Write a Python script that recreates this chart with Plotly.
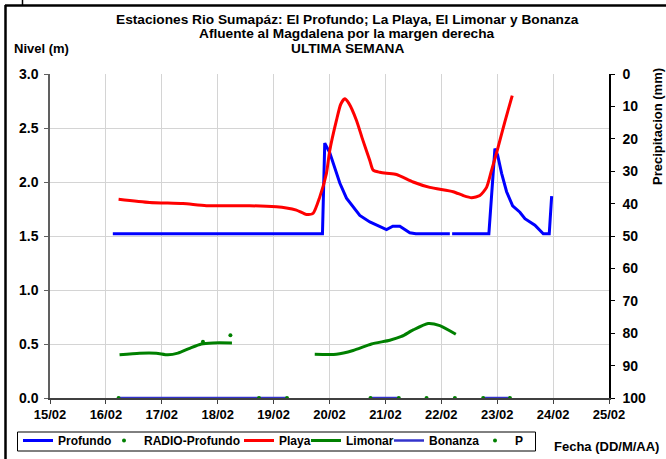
import plotly.graph_objects as go

# ---- data (x in day-of-month, February) ----
tick_days = [15, 16, 17, 18, 19, 20, 21, 22, 23, 24, 25]
tick_labels = ["15/02", "16/02", "17/02", "18/02", "19/02", "20/02",
               "21/02", "22/02", "23/02", "24/02", "25/02"]

profundo_x = [16.124, 19.874, 19.915, 20.005, 20.184, 20.304, 20.542, 20.721, 21.020,
              21.079, 21.133, 21.258, 21.437, 21.544, 22.153, None, 22.194, 22.851,
              22.959, 23.007, 23.079, 23.168, 23.276, 23.406, 23.496, 23.675, 23.824,
              23.931, 23.974]
profundo_y = [1.52, 1.52, 2.36, 2.27, 1.99, 1.85, 1.69, 1.63, 1.56,
              1.58, 1.59, 1.59, 1.53, 1.52, 1.52, None, 1.52, 1.52,
              2.31, 2.25, 2.08, 1.91, 1.78, 1.72, 1.66, 1.60, 1.52,
              1.52, 1.87]

radio_x = [17.736, 18.227]
radio_y = [0.52, 0.58]

playa_x = [16.227, 16.782, 17.378, 17.797, 18.572, 19.050, 19.229, 19.408, 19.587,
           19.706, 19.825, 19.945, 20.004, 20.124, 20.201, 20.273, 20.344, 20.483,
           20.595, 20.721, 20.780, 20.900, 21.020, 21.199, 21.496, 21.794, 22.212,
           22.391, 22.542, 22.690, 22.810, 22.900, 23.000, 23.138, 23.269]
playa_y = [1.84, 1.81, 1.80, 1.78, 1.78, 1.77, 1.76, 1.74, 1.70,
           1.71, 1.86, 2.08, 2.29, 2.57, 2.72, 2.77, 2.73, 2.57,
           2.39, 2.20, 2.11, 2.09, 2.08, 2.07, 2.00, 1.95, 1.91,
           1.875, 1.855, 1.875, 1.95, 2.11, 2.29, 2.56, 2.80]

limonar_x = [16.244, 16.602, 16.901, 17.109, 17.288, 17.498, 17.707, 17.915, 18.255,
             None, 19.736, 20.124, 20.422, 20.751, 21.079, 21.288, 21.496, 21.765,
             21.974, 22.260]
limonar_y = [0.40, 0.415, 0.415, 0.40, 0.415, 0.46, 0.50, 0.51, 0.51,
             None, 0.405, 0.405, 0.44, 0.50, 0.535, 0.57, 0.63, 0.69,
             0.67, 0.59]

bonanza_x = [16.227, 19.240, None, 20.733, 21.240, None, 22.749, 23.228]
bonanza_y = [0.0, 0.0, None, 0.0, 0.0, None, 0.0, 0.0]

p_x = [16.227, 18.739, 19.240, 20.733, 21.240, 21.736, 22.243, 22.749, 23.228]
p_y = [0, 0, 0, 0, 0, 0, 0, 0, 0]

title_lines = ["Estaciones Rio Sumapáz: El Profundo; La Playa, El Limonar y Bonanza",
               "Afluente al Magdalena por la margen derecha",
               "ULTIMA SEMANA"]

FONT = "Liberation Sans"
GREEN = "#008000"

fig = go.Figure()
fig.add_trace(go.Scatter(x=profundo_x, y=profundo_y, name="Profundo", mode="lines",
                         line=dict(color="#0000FF", width=3), legendwidth=41))
fig.add_trace(go.Scatter(x=radio_x, y=radio_y, name="RADIO-Profundo", mode="markers",
                         marker=dict(color=GREEN, size=4), legendwidth=90))
fig.add_trace(go.Scatter(x=playa_x, y=playa_y, name="Playa", mode="lines",
                         line=dict(color="#FF0000", width=3, shape="spline", smoothing=0.6),
                         legendwidth=22))
fig.add_trace(go.Scatter(x=limonar_x, y=limonar_y, name="Limonar", mode="lines",
                         line=dict(color=GREEN, width=3, shape="spline", smoothing=0.6),
                         legendwidth=38))
fig.add_trace(go.Scatter(x=bonanza_x, y=bonanza_y, name="Bonanza", mode="lines",
                         line=dict(color="#3333CC", width=2.5), legendwidth=41))
fig.add_trace(go.Scatter(x=p_x, y=p_y, name="P", mode="markers",
                         marker=dict(color=GREEN, size=4), legendwidth=14))
# invisible trace to activate the right axis
fig.add_trace(go.Scatter(x=[15, 25], y=[None, None], yaxis="y2", showlegend=False,
                         hoverinfo="skip"))

W, H = 666, 459
L, R, T, B = 50, 57, 74, 61
pw, ph = W - L - R, H - T - B


def px(x):
    return (x - L) / pw


def py(y):
    return (H - B - y) / ph


bold = dict(family=FONT, weight="bold", color="black")

annotations = []
for txt, yc in zip(title_lines, [19.5, 34, 48.5]):
    annotations.append(dict(text=txt, x=px(347), y=py(yc), xref="paper", yref="paper",
                            showarrow=False, xanchor="center", yanchor="middle",
                            font=dict(size=13.7, **bold)))
annotations.append(dict(text="Nivel (m)", x=px(12), y=py(48.5), xref="paper", yref="paper",
                        showarrow=False, xanchor="left", yanchor="middle",
                        font=dict(size=13, **bold)))
annotations.append(dict(text="Precipitacion (mm)", x=px(657), y=py(126), xref="paper",
                        yref="paper", showarrow=False, textangle=-90,
                        xanchor="center", yanchor="middle", font=dict(size=13, **bold)))
annotations.append(dict(text="Fecha (DD/M/AA)", x=px(552), y=py(446), xref="paper",
                        yref="paper", showarrow=False, xanchor="left", yanchor="middle",
                        font=dict(size=13, **bold)))

shapes = [
    dict(type="line", xref="paper", yref="paper", x0=px(5), x1=px(666), y0=py(5.5), y1=py(5.5),
         line=dict(color="black", width=2.5)),
    dict(type="line", xref="paper", yref="paper", x0=px(5.5), x1=px(5.5), y0=py(5), y1=py(459),
         line=dict(color="black", width=2.5)),
    dict(type="line", xref="paper", yref="paper", x0=px(22.5), x1=px(22.5), y0=py(0), y1=py(5),
         line=dict(color="black", width=1.5)),
    # legend frame
    dict(type="rect", xref="paper", yref="paper", x0=px(17.5), x1=px(535.5),
         y0=py(432), y1=py(451), line=dict(color="black", width=1), fillcolor="white",
         layer="below"),
]

fig.update_layout(
    width=W, height=H,
    margin=dict(l=L, r=R, t=T, b=B, pad=0, autoexpand=False),
    paper_bgcolor="white", plot_bgcolor="white",
    font=dict(family=FONT, size=12, color="black"),
    showlegend=True,
    legend=dict(orientation="h", x=px(18), y=py(426), xanchor="left", yanchor="top",
                borderwidth=0, bgcolor="rgba(0,0,0,0)",
                font=dict(size=12, **bold), itemwidth=30, tracegroupgap=0,
                traceorder="normal"),
    xaxis=dict(range=[15, 25], tickvals=tick_days, ticktext=tick_labels,
               showgrid=True, gridcolor="#d4d4d4", gridwidth=1,
               showline=True, linecolor="#404040", linewidth=1.5,
               ticks="outside", ticklen=4, tickcolor="#404040",
               zeroline=False, tickfont=dict(size=13, **bold)),
    yaxis=dict(range=[0, 3], tickvals=[0, 0.5, 1.0, 1.5, 2.0, 2.5, 3.0], tickformat=".1f",
               showgrid=True, gridcolor="#d4d4d4", gridwidth=1,
               showline=True, linecolor="#606060", linewidth=1.5,
               ticks="outside", ticklen=4, tickcolor="#606060", ticklabelstandoff=3,
               zeroline=False, tickfont=dict(size=14, **bold)),
    yaxis2=dict(range=[100, 0], overlaying="y", side="right", tickvals=list(range(0, 101, 10)),
                showgrid=False, showline=True, linecolor="black", linewidth=1.5,
                ticks="outside", ticklen=4, tickcolor="black", zeroline=False,
                ticklabelstandoff=5, tickfont=dict(size=14, **bold)),
    annotations=annotations,
    shapes=shapes,
)

fig.write_html("out.html", config={"displayModeBar": False},
               post_script="document.body.style.margin='0px';")
